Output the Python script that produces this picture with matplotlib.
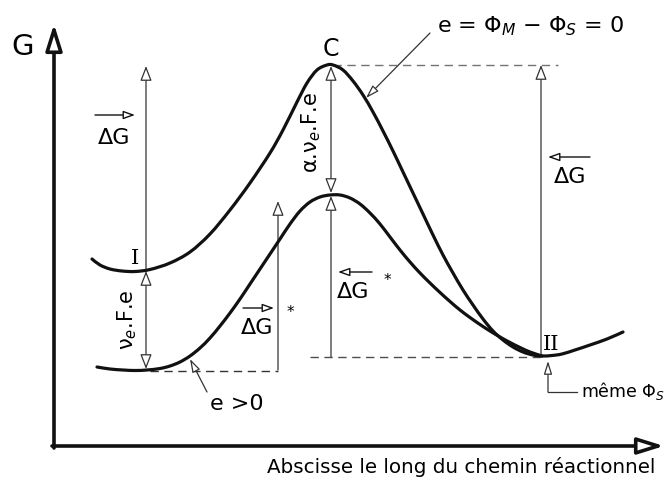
import matplotlib
matplotlib.use('Agg')
import matplotlib.pyplot as plt
from matplotlib.patches import FancyArrowPatch, PathPatch
from matplotlib.path import Path

# curve points (pixel coords, y downward)
upper_x = [92, 100, 110, 122, 135, 150, 170, 190, 210, 230, 250, 270, 283, 297, 307, 317, 327, 333,
           343, 353, 363, 373, 383, 393, 403, 413, 423, 433, 443, 453, 463, 473, 483, 493, 503, 513,
           523, 533, 542, 552, 562, 575, 590, 607, 623]
upper_y = [260, 266, 270, 272, 272.5, 270.5, 264, 253, 235, 211, 184, 154, 131, 103, 84, 71, 66, 66,
           71, 82, 96, 113, 132, 152, 173, 194, 215, 236, 256, 274, 291, 306, 320, 332, 341, 348,
           353, 356, 357, 356.5, 355, 351, 346, 340, 333]
lower_x = [97, 110, 123, 135, 147, 160, 170, 180, 190, 200, 210, 220, 230, 240, 250, 260, 270, 280,
           290, 300, 310, 320, 330, 340, 350, 360, 370, 380, 390, 400, 410, 420, 430, 440, 450, 460,
           470, 480, 490, 500, 510, 520, 530, 542]
lower_y = [368, 370, 371, 371.5, 371, 369.5, 367, 363, 357, 349, 339, 327, 314, 300, 285, 270, 255, 240,
           225, 212, 203, 198, 196, 196, 199, 205, 214, 225, 238, 251, 263, 274, 284, 293.5, 302.5, 311,
           318.5, 325.5, 332, 338, 343.5, 348.5, 353, 357]

plt.rcParams['font.family'] = ['DejaVu Sans']
plt.rcParams['mathtext.fontset'] = 'dejavusans'

fig = plt.figure(figsize=(6.64, 4.89), dpi=100)
ax = fig.add_axes([0, 0, 1, 1])
ax.set_xlim(0, 664)
ax.set_ylim(489, 0)
ax.axis('off')

dark = '#111111'
thin = '#333333'


def arrow(x0, y0, x1, y1, style='-|>', lw=0.9, col=thin, hl=9, hw=3.5):
    a = FancyArrowPatch((x0, y0), (x1, y1),
                        arrowstyle='%s,head_length=%.2f,head_width=%.2f' % (style, hl / 10., hw / 10.),
                        mutation_scale=10, lw=lw, ec=col, fc='white', shrinkA=0, shrinkB=0, zorder=3)
    ax.add_patch(a)


def smooth(xs, ys):
    # bezier path through the read points (catmull-rom tangents)
    pts = list(zip(xs, ys))
    verts = [pts[0]]
    codes = [Path.MOVETO]
    for i in range(len(pts) - 1):
        p0 = pts[i - 1] if i > 0 else pts[i]
        p1 = pts[i]
        p2 = pts[i + 1]
        p3 = pts[i + 2] if i + 2 < len(pts) else p2
        c1 = (p1[0] + (p2[0] - p0[0]) / 6., p1[1] + (p2[1] - p0[1]) / 6.)
        c2 = (p2[0] - (p3[0] - p1[0]) / 6., p2[1] - (p3[1] - p1[1]) / 6.)
        verts += [c1, c2, p2]
        codes += [Path.CURVE4] * 3
    return Path(verts, codes)


# axes
arrow(54, 449, 54, 25, lw=2.6, col=dark, hl=16, hw=5)
arrow(52, 447, 664, 447, lw=2.6, col=dark, hl=16, hw=5)

# curves
for xs, ys in [(upper_x, upper_y), (lower_x, lower_y)]:
    ax.add_patch(PathPatch(smooth(xs, ys), fc='none', ec=dark, lw=2.3, capstyle='round',
                           joinstyle='round', zorder=4))

# dashed guides
ax.plot([333, 558], [66, 66], color='0.45', lw=1.0, ls=(0, (6, 4)))
ax.plot([310, 540], [358, 358], color='0.3', lw=1.0, ls=(0, (6, 4)))
ax.plot([150, 278], [371.5, 371.5], color='0.2', lw=1.0, ls=(0, (6, 4)))

# vertical arrows
arrow(146, 271, 146, 67)
arrow(146, 272, 146, 370, style='<|-|>')
arrow(278, 371, 278, 202)
arrow(331, 67, 331, 194, style='<|-|>')
arrow(331, 358, 331, 197)
arrow(541, 358, 541, 66)

# labels
ax.text(23, 47, 'G', fontsize=21, ha='center', va='center')
ax.text(331, 49, 'C', fontsize=17, ha='center', va='center')
ax.text(135, 259, 'I', fontsize=15, ha='center', va='center', family='DejaVu Serif')
ax.text(551, 345, 'II', fontsize=15, ha='center', va='center', family='DejaVu Serif')

ax.text(114, 138, 'ΔG', fontsize=16, ha='center', va='center')
arrow(95, 116, 135, 116, lw=1.0, col=dark, hl=7, hw=2.5)

ax.text(570, 177, 'ΔG', fontsize=16, ha='center', va='center')
arrow(590, 158, 548, 158, lw=1.0, col=dark, hl=7, hw=2.5)

ax.text(257, 328, 'ΔG', fontsize=16, ha='center', va='center')
arrow(243, 309, 274, 309, lw=1.0, col=dark, hl=7, hw=2.5)
ax.text(290, 313, '*', fontsize=11, ha='center', va='center')

ax.text(353, 292, 'ΔG', fontsize=16, ha='center', va='center')
arrow(372, 273, 338, 273, lw=1.0, col=dark, hl=7, hw=2.5)
ax.text(387, 281, '*', fontsize=11, ha='center', va='center')

ax.text(311, 133, r'α.ν$_e$.F.e', fontsize=15, ha='center', va='center', rotation=90)
ax.text(127, 320, r'ν$_e$.F.e', fontsize=15, ha='center', va='center', rotation=90)

ax.text(437, 26, r'e = Φ$_M$ − Φ$_S$ = 0', fontsize=16, ha='left', va='center')
arrow(430, 34, 366, 99, lw=0.9, col=thin, hl=8, hw=2.5)

ax.text(210, 404, 'e >0', fontsize=16, ha='left', va='center')
arrow(207, 393, 190, 360, lw=0.9, col=thin, hl=8, hw=2.5)

ax.plot([548, 548, 577], [393, 393, 393], color=thin, lw=0.9)
arrow(548, 393, 548, 362, lw=0.9, col=thin, hl=8, hw=2.5)
ax.text(581, 391, r'même Φ$_S$', fontsize=12.5, ha='left', va='center')

ax.text(461, 467, 'Abscisse le long du chemin réactionnel', fontsize=14.3, ha='center', va='center')

fig.savefig('out.png', dpi=100)
